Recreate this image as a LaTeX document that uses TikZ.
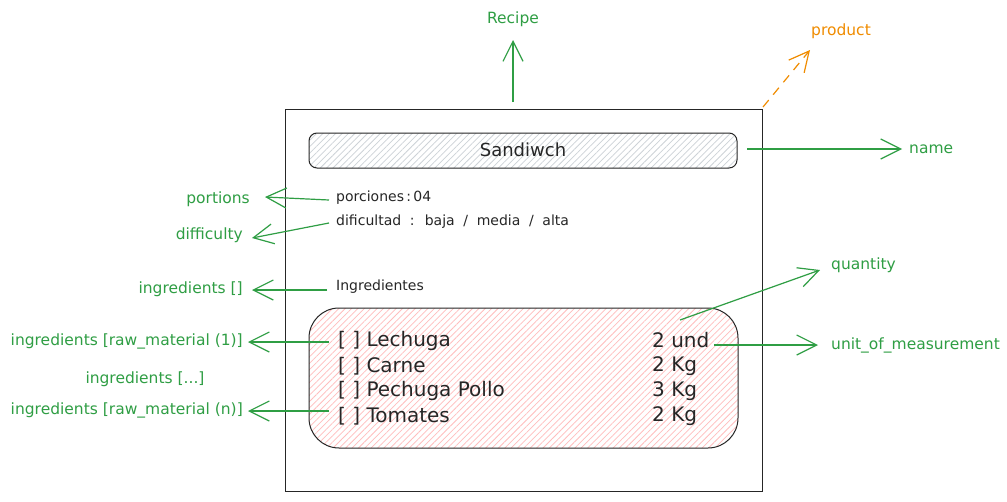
\documentclass[tikz,border=0pt]{standalone}
\usepackage{fontspec}
\setmainfont{DejaVu Sans}
\usetikzlibrary{arrows.meta,patterns.meta}
\definecolor{exgreen}{HTML}{2F9E44}
\definecolor{exorange}{HTML}{F08C00}
\definecolor{exgray}{HTML}{CDD2D7}
\definecolor{expink}{HTML}{FFBDBD}
\tikzset{
  garrow/.style={draw=exgreen,line width=1.2pt,-{Straight Barb[length=20pt,width=20pt,line width=1.2pt]}},
  oarrow/.style={draw=exorange,line width=1.2pt,dashed,dash pattern=on 9pt off 7pt,-{Straight Barb[length=20pt,width=20pt,line width=1.2pt]}},
  glabel/.style={text=exgreen,font=\fontsize{15.5}{18}\selectfont,inner sep=1pt},
  olabel/.style={text=exorange,font=\fontsize{15.5}{18}\selectfont,inner sep=1pt},
  btext/.style={text=black!85,font=\fontsize{14}{16}\selectfont,inner sep=0pt,anchor=west},
  itext/.style={text=black!85,font=\fontsize{20}{23}\selectfont,inner sep=0pt,anchor=west},
  hatch/.style={pattern={Lines[angle=45,distance=4.5pt,line width=0.75pt]}},
}
\begin{document}
\begin{tikzpicture}[x=1pt,y=-1pt]
\useasboundingbox (0,0) rectangle (1007,501);
\fill[white] (0,0) rectangle (1007,501);
% outer frame
\draw[black!85,line width=1pt] (285,109) rectangle (762,491);
% name box
\fill[hatch,pattern color=exgray,rounded corners=8pt] (309,133) rectangle (737,168);
\draw[black!85,line width=1pt,rounded corners=8pt] (309,133) rectangle (737,168);
\node[text=black!85,font=\fontsize{18}{20}\selectfont,inner sep=0pt] (name) at (523,150) {Sandiwch};
\coordinate (namebox) at (747,149);
% texts
\node[btext] (porc) at (336,198) {porciones\,:\,04};
\node[btext] (dif) at (336,222) {\spaceskip=0.62em dificultad : baja / media / alta};
\node[btext] (ingr) at (336,287) {Ingredientes};
% ingredients box
\fill[hatch,pattern color=expink,rounded corners=30pt] (309,308) rectangle (738,448);
\draw[black!85,line width=1pt,rounded corners=30pt] (309,308) rectangle (738,448);
\node[itext] (i1) at (338,341) {[ ] Lechuga};
\node[itext] (i2) at (338,366) {[ ] Carne};
\node[itext] (i3) at (338,391) {[ ] Pechuga Pollo};
\node[itext] (i4) at (338,416) {[ ] Tomates};
\node[itext] (q1) at (652,340) {2 und};
\node[itext] (q2) at (652,366) {2 Kg};
\node[itext] (q3) at (652,391) {3 Kg};
\node[itext] (q4) at (652,416) {2 Kg};
% labels
\node[glabel] (lrecipe) at (513,19) {Recipe};
\node[olabel] (lproduct) at (841,31) {product};
\node[glabel,anchor=west] (lname) at (908,149) {name};
\node[glabel,anchor=east] (lportions) at (251,199) {portions};
\node[glabel,anchor=east] (ldiff) at (244,235) {difficulty};
\node[glabel,anchor=east] (ling) at (244,289) {ingredients []};
\node[glabel,anchor=east] (lraw1) at (244,341) {ingredients [raw\_material (1)]};
\node[glabel] (ldots) at (145,379) {ingredients [...]};
\node[glabel,anchor=east] (lrawn) at (244,410) {ingredients [raw\_material (n)]};
\node[glabel,anchor=west] (lqty) at (830,265) {quantity};
\node[glabel,anchor=west] (lunit) at (830,345) {unit\_of\_measurement};
% connectors
\coordinate (recipeStart) at (513,102);
\coordinate (recipeEnd) at (513,40);
\draw[garrow] (recipeStart) -- (recipeEnd);
\coordinate (prodStart) at (763,107);
\coordinate (prodEnd) at (810,50);
\draw[oarrow] (prodStart) -- (prodEnd);
\coordinate (nameEnd) at (902,149);
\draw[garrow] (namebox) -- (nameEnd);
\coordinate (porcStart) at (329,200);
\coordinate (porcEnd) at (265,197);
\draw[garrow] (porcStart) -- (porcEnd);
\coordinate (difStart) at (329,223);
\coordinate (difEnd) at (252,238);
\draw[garrow] (difStart) -- (difEnd);
\coordinate (ingStart) at (327,290);
\coordinate (ingEnd) at (252,290);
\draw[garrow] (ingStart) -- (ingEnd);
\coordinate (raw1Start) at (329,342);
\coordinate (raw1End) at (248,342);
\draw[garrow] (raw1Start) -- (raw1End);
\coordinate (rawnStart) at (329,411);
\coordinate (rawnEnd) at (248,411);
\draw[garrow] (rawnStart) -- (rawnEnd);
\coordinate (qtyStart) at (680,320);
\coordinate (qtyEnd) at (820,270);
\draw[garrow] (qtyStart) -- (qtyEnd);
\coordinate (unitStart) at (714,345);
\coordinate (unitEnd) at (818,345);
\draw[garrow] (unitStart) -- (unitEnd);
\end{tikzpicture}
\end{document}
